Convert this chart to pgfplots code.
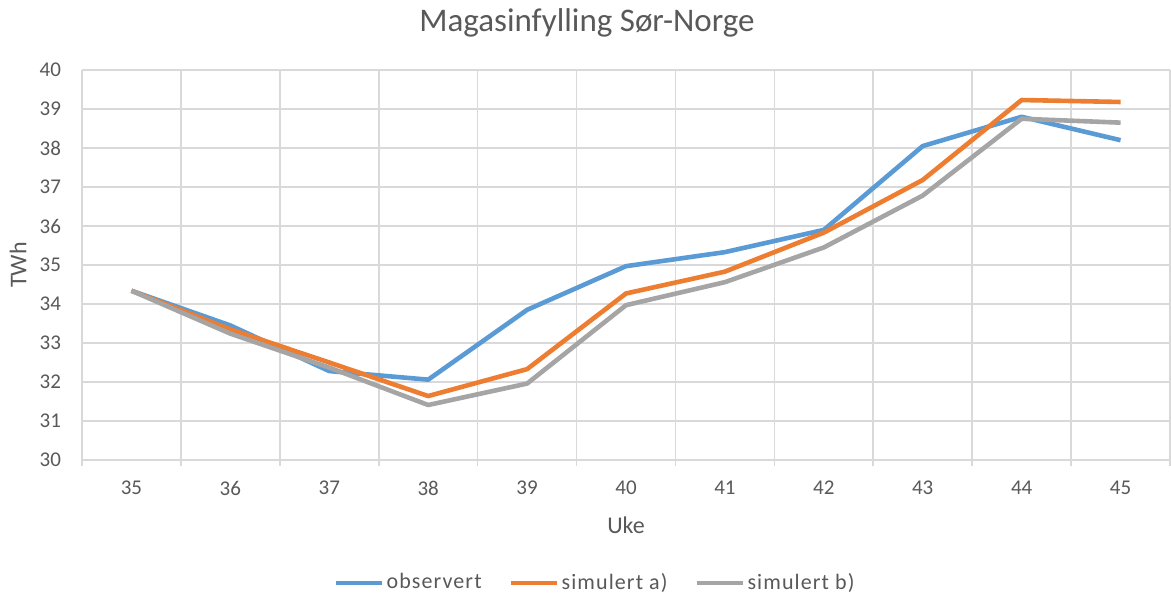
\documentclass[border=0pt]{standalone}
\usepackage{pgfplots}
\pgfplotsset{compat=1.18}
\usepackage{fontspec}
\setmainfont{Carlito}
\newfontfamily\legfont[LetterSpace=5]{Carlito}
\definecolor{obsblue}{HTML}{5B9BD5}
\definecolor{simorange}{HTML}{ED7D31}
\definecolor{simgray}{HTML}{A5A5A5}
\definecolor{txtgray}{HTML}{595959}
\definecolor{gridgray}{HTML}{D9D9D9}

\begin{document}
\begin{tikzpicture}
\useasboundingbox (0,0) rectangle (585.5pt,300.5pt);
\node[font=\fontsize{16.5}{19}\selectfont, text=txtgray] at (293.5pt,289pt) {Magasinfylling Sør-Norge};
\begin{axis}[
    at={(41pt,70.5pt)}, anchor=south west,
    scale only axis, width=544pt, height=195pt,
    xmin=34.5, xmax=45.5, ymin=30, ymax=40,
    xtick={35,...,45}, ytick={30,...,40},
    minor xtick={34.5,35.5,...,45.5},
    xtick pos=bottom, ytick pos=left,
    axis line style={draw=none},
    major tick length=0pt,
    minor tick length=3pt,
    tick align=outside,
    minor tick style={gridgray, line width=0.8pt},
    xminorgrids, ymajorgrids,
    grid style={gridgray, line width=0.8pt},
    ticklabel style={font=\fontsize{10.5}{12}\selectfont, text=txtgray},
    /pgf/number format/assume math mode=true,
    xticklabel style={yshift=-7pt},
    yticklabel style={xshift=-7pt},
    xlabel={Uke},
    ylabel={TWh},
    label style={font=\fontsize{12}{14}\selectfont, text=txtgray},
    xlabel style={at={(axis description cs:0.5,0)}, anchor=center, yshift=-32.5pt},
    ylabel style={at={(axis description cs:-0.0588,0.5)}, anchor=center},
    legend style={at={(0.472,-0.315)}, anchor=center, draw=none,
        font=\fontsize{11}{13}\selectfont\legfont, text=txtgray,
        legend columns=-1,
        /tikz/every even column/.append style={column sep=12pt},
        nodes={inner sep=1.5pt}},
    legend cell align=left,
    legend image code/.code={\draw[line width=2pt] (0pt,0pt) -- (23pt,0pt);},
    every axis plot/.append style={line width=2.3pt, line join=round, mark=none},
]
\addplot[obsblue] coordinates {
    (35,34.34) (36,33.45) (37,32.28) (38,32.06) (39,33.85) (40,34.97)
    (41,35.33) (42,35.90) (43,38.05) (44,38.80) (45,38.20)
};
\addplot[simorange] coordinates {
    (35,34.34) (36,33.35) (37,32.50) (38,31.64) (39,32.33) (40,34.27)
    (41,34.83) (42,35.83) (43,37.18) (44,39.23) (45,39.18)
};
\addplot[simgray] coordinates {
    (35,34.34) (36,33.24) (37,32.37) (38,31.41) (39,31.96) (40,33.97)
    (41,34.56) (42,35.45) (43,36.78) (44,38.75) (45,38.65)
};
\legend{observert, simulert a), simulert b)}
\end{axis}
\end{tikzpicture}
\end{document}
